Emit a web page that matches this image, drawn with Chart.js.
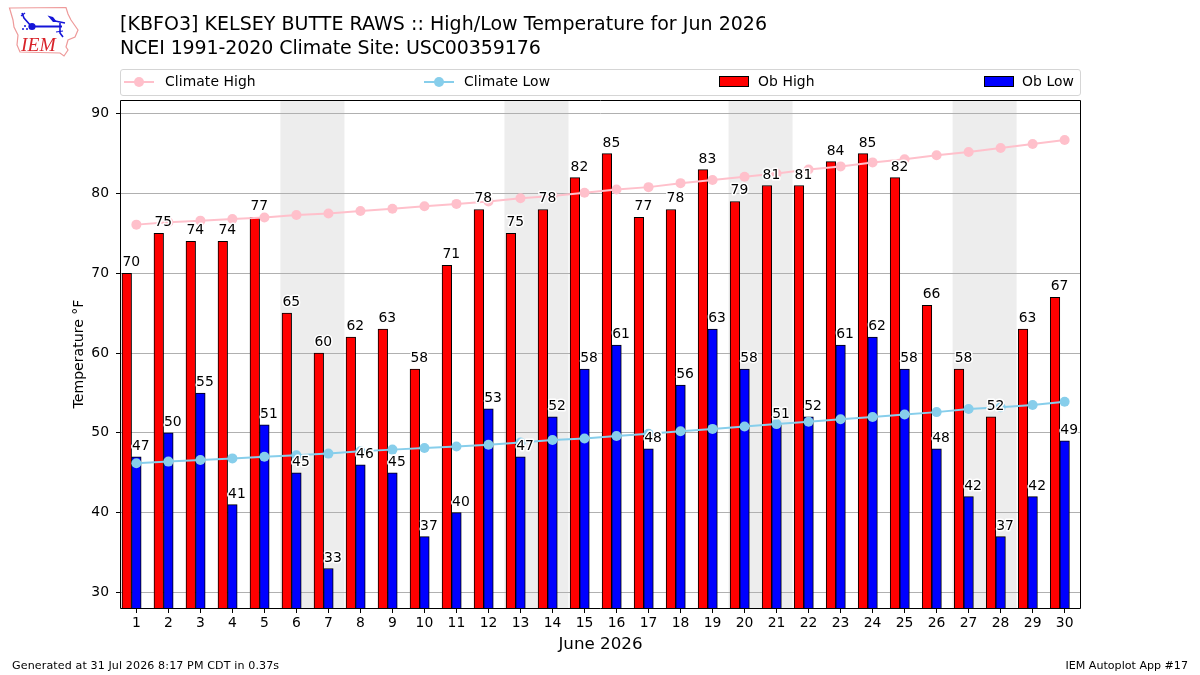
<!DOCTYPE html>
<html lang="en">
<head>
  <meta charset="UTF-8">
  <title>KBFO3 High/Low Temperature for Jun 2026</title>
  <style>
    body { margin: 0; background: #fff; font-family: "DejaVu Sans", sans-serif; color: #000; }
    #wrap { position: relative; width: 1200px; height: 675px; overflow: hidden; }
    #chart { position: absolute; left: 0; top: 0; }
    #logo { position: absolute; left: 0; top: 0; }
    #title { position: absolute; left: 120px; top: 11px; font-size: 19px; line-height: 24px; white-space: nowrap; }
    #legend { position: absolute; left: 120px; top: 69px; width: 959px; height: 25px; border: 1px solid #d5d5d5; border-radius: 3px; }
    #legend span { position: absolute; top: 2px; font-size: 13.9px; line-height: 18px; letter-spacing: .08px; white-space: nowrap; }
    #legend i { position: absolute; display: block; }
    .line { top: 11px; width: 30px; height: 2px; }
    .dot { top: 7px; width: 10px; height: 10px; border-radius: 50%; }
    .patch { top: 6px; width: 28px; height: 9px; border: 1px solid #000; }
    .foot { position: absolute; top: 659px; font-size: 11.1px; line-height: 14px; white-space: nowrap; }
  </style>
</head>
<body>
<div id="wrap">
  <canvas id="chart" width="1200" height="675"></canvas>

  <!-- IEM logo -->
  <svg id="logo" width="90" height="65" viewBox="0 0 90 65">
    <path d="M9.5 8 L66 7.5 L68 14 L71 20 L78 30 L75 37 L68 40 L66 47 L68 50 L64 56 L60 53 L20 52 L17 45 L18 35 L14 27 L13 20 Z" fill="#fff" stroke="#ee9a9a" stroke-width="1.2"/>
    <g stroke="#1414d8" fill="none">
      <path d="M32 26.5 L62 26.5" stroke-width="2"/>
      <path d="M22 13 L24 18 L31 26" stroke-width="1.6"/>
      <path d="M21 16 L25 13" stroke-width="1.2"/>
      <path d="M55 21 L65 23" stroke-width="1.4"/>
      <path d="M60 23 L60 33 L63 37" stroke-width="1.6"/>
      <path d="M56 32 L63 31" stroke-width="1.2"/>
    </g>
    <g fill="#1414d8">
      <circle cx="32" cy="26.5" r="3.6"/>
      <path d="M47.5 15.5 L53 17 L57 22 L53 22 Z"/>
      <circle cx="25" cy="26" r="1"/><circle cx="23" cy="29" r="1"/><circle cx="27" cy="29" r="1"/>
    </g>
    <text x="21" y="50.5" font-family="Liberation Serif" font-style="italic" font-size="19.5" fill="#d8232a">IEM</text>
  </svg>

  <div id="title"><span style="letter-spacing:.03px">[KBFO3] KELSEY BUTTE RAWS :: High/Low Temperature for Jun 2026</span><br><span style="letter-spacing:-.1px">NCEI 1991-2020 Climate Site: USC00359176</span></div>

  <div id="legend">
    <i class="line" style="left:3px;background:#ffc0cb"></i><i class="dot" style="left:13px;background:#ffc0cb"></i>
    <span style="left:44px">Climate High</span>
    <i class="line" style="left:303px;background:#87ceeb"></i><i class="dot" style="left:313px;background:#87ceeb"></i>
    <span style="left:343px">Climate Low</span>
    <i class="patch" style="left:598px;background:#f00"></i>
    <span style="left:637px">Ob High</span>
    <i class="patch" style="left:863px;background:#00f"></i>
    <span style="left:901px">Ob Low</span>
  </div>

  <div class="foot" style="left:12px;letter-spacing:.11px">Generated at 31 Jul 2026 8:17 PM CDT in 0.37s</div>
  <div class="foot" style="right:12px">IEM Autoplot App #17</div>
</div>

<script src="https://cdn.jsdelivr.net/npm/chart.js"></script>
<script>
  // values
  var days = [1,2,3,4,5,6,7,8,9,10,11,12,13,14,15,16,17,18,19,20,21,22,23,24,25,26,27,28,29,30];
  var obHigh = [70,75,74,74,77,65,60,62,63,58,71,78,75,78,82,85,77,78,83,79,81,81,84,85,82,66,58,52,63,67];
  var obLow = [47,50,55,41,51,45,33,46,45,37,40,53,47,52,58,61,48,56,63,58,51,52,61,62,58,48,42,37,42,49];
  var climateHigh = [76.1,76.4,76.6,76.8,77.0,77.3,77.5,77.8,78.1,78.4,78.7,79.0,79.4,79.7,80.1,80.5,80.8,81.3,81.7,82.1,82.5,83.0,83.4,83.9,84.3,84.8,85.2,85.7,86.2,86.7];
  var climateLow = [46.2,46.4,46.6,46.8,47.0,47.2,47.4,47.7,47.9,48.1,48.3,48.5,48.8,49.1,49.3,49.6,49.9,50.2,50.5,50.8,51.1,51.4,51.7,52.0,52.3,52.6,53.0,53.2,53.5,53.9];
  var weekendStarts = [6,13,20,27];

  var FONT = '"DejaVu Sans"';
  var HIGH_SHIFT = -0.3;

  function pairs(values, shift) {
    return values.map(function(v, i) { return { x: days[i] + shift, y: v }; });
  }

  // grey weekend bands, under the grid
  var weekendBands = {
    id: 'weekendBands',
    beforeDraw: function(chart) {
      var c = chart.ctx, a = chart.chartArea, x = chart.scales.x;
      c.save();
      c.fillStyle = '#ededed';
      weekendStarts.forEach(function(d) {
        var x0 = x.getPixelForValue(d - 0.5), x1 = x.getPixelForValue(d + 1.5);
        c.fillRect(x0, a.top, x1 - x0, a.bottom - a.top);
      });
      c.restore();
    }
  };

  // value labels with white halo, and the axes frame
  var barLabels = {
    id: 'barLabels',
    afterDatasetsDraw: function(chart) {
      var c = chart.ctx, a = chart.chartArea;
      c.save();
      c.font = '13.9px ' + FONT;
      c.textAlign = 'center';
      c.textBaseline = 'alphabetic';
      c.lineJoin = 'round';
      [2, 3].forEach(function(idx) {
        var vals = chart.data.datasets[idx].data;
        chart.getDatasetMeta(idx).data.forEach(function(bar, i) {
          var t = String(vals[i].y);
          c.strokeStyle = '#fff';
          c.lineWidth = 3;
          c.strokeText(t, bar.x + 4.5, bar.y - 7);
          c.fillStyle = '#000';
          c.fillText(t, bar.x + 4.5, bar.y - 7);
        });
      });
      c.strokeStyle = '#000';
      c.lineWidth = 1;
      c.strokeRect(a.left - 0.5, a.top + 0.5, a.right - a.left + 1, a.bottom - a.top);
      c.restore();
    }
  };

  new Chart(document.getElementById('chart'), {
    type: 'bar',
    data: {
      datasets: [
        { type: 'line', label: 'Climate High', data: pairs(climateHigh, 0), borderColor: '#ffc0cb', backgroundColor: '#ffc0cb', borderWidth: 2, pointRadius: 5, pointBorderWidth: 0, order: 1 },
        { type: 'line', label: 'Climate Low', data: pairs(climateLow, 0), borderColor: '#87ceeb', backgroundColor: '#87ceeb', borderWidth: 2, pointRadius: 5, pointBorderWidth: 0, order: 1 },
        { label: 'Ob High', data: pairs(obHigh, HIGH_SHIFT), backgroundColor: '#ff0000', borderColor: '#000', borderWidth: 1, barThickness: 9.6, grouped: false, order: 2 },
        { label: 'Ob Low', data: pairs(obLow, 0), backgroundColor: '#0000ff', borderColor: '#000', borderWidth: 1, barThickness: 9.6, grouped: false, order: 2 }
      ]
    },
    options: {
      responsive: false,
      animation: false,
      layout: { padding: { left: 0, top: 100, right: 120, bottom: 0 } },
      plugins: { legend: { display: false }, tooltip: { enabled: false } },
      scales: {
        x: {
          type: 'linear',
          offset: false,
          min: 0.52,
          max: 30.48,
          border: { display: false },
          grid: { offset: false, drawOnChartArea: false, drawTicks: true, tickLength: 5, tickColor: '#000' },
          ticks: { stepSize: 1, includeBounds: false, autoSkip: false, maxRotation: 0, padding: 2, color: '#000', font: { family: FONT, size: 13.9 } },
          title: { display: true, text: 'June 2026', color: '#000', font: { family: FONT, size: 16.7 }, padding: { top: 0, bottom: 20 } },
          afterFit: function(s) { s.height = 67; }
        },
        y: {
          min: 28.05,
          max: 91.72,
          border: { display: false },
          grid: { color: '#b0b0b0', lineWidth: 1, drawTicks: true, tickLength: 5, tickColor: '#000' },
          ticks: { stepSize: 10, includeBounds: false, padding: 7, color: '#000', font: { family: FONT, size: 13.9 } },
          title: { display: true, text: 'Temperature °F', color: '#000', font: { family: FONT, size: 14.1 }, padding: { top: 71, bottom: 0 } },
          afterFit: function(s) { s.width = 121; }
        }
      }
    },
    plugins: [weekendBands, barLabels]
  });
</script>
</body>
</html>
